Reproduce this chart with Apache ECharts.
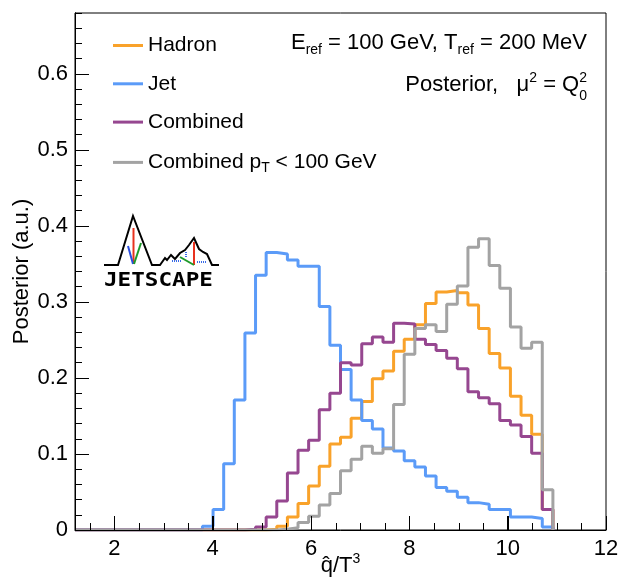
<!DOCTYPE html>
<html>
<head>
<meta charset="utf-8">
<script src="https://cdn.jsdelivr.net/npm/echarts@6/dist/echarts.min.js"></script>
<style>
html,body{margin:0;padding:0;background:#fff;}
#chart{width:619px;height:578px;}
</style>
</head>
<body>
<div id="chart"></div>
<script>
// ---- data ----
const binLow = 1.2;
const binWidth = 0.216;
const seriesNames = ['Hadron', 'Jet', 'Combined', 'Combined pT < 100 GeV'];
const hadron = [0,0,0,0,0,0,0,0,0,0,0,0,0,0,0,0,0,0,
  0.001,0.005,0.017,0.035,0.058,0.084,0.113,0.122,0.147,0.169,0.199,0.209,0.235,0.251,0.270,0.298,0.313,0.315,0.312,0.296,0.265,0.232,0.213,0.176,0.151,0.126,0.027];
const jet = [0,0,0,0,0,0,0,0,0,0,0,0,
  0.005,0.027,0.087,0.171,0.259,0.335,0.365,0.363,0.355,0.347,0.347,0.294,0.243,0.211,0.171,0.144,0.133,0.108,0.104,0.091,0.083,0.071,0.056,0.051,0.043,0.036,0.034,0.027,0.027,0.017,0.017,0.015,0.004];
const combined = [0,0,0,0,0,0,0,0,0,0,0,0,0,0,0,0,
  0.001,0.004,0.017,0.038,0.075,0.105,0.118,0.158,0.180,0.220,0.217,0.245,0.254,0.247,0.272,0.271,0.251,0.244,0.236,0.226,0.212,0.182,0.174,0.166,0.144,0.138,0.123,0.101,0.027];
const combinedLowPt = [0,0,0,0,0,0,0,0,0,0,0,0,0,0,0,0,0,0,0,
  0.001,0.003,0.010,0.018,0.033,0.048,0.078,0.093,0.110,0.101,0.107,0.165,0.231,0.265,0.270,0.261,0.297,0.321,0.372,0.383,0.348,0.318,0.267,0.239,0.247,0.053];
const xMajorTicks = [2,4,6,8,10,12];
const xMinorTicks = [1.5,2.5,3,3.5,4.5,5,5.5,6.5,7,7.5,8.5,9,9.5,10.5,11,11.5];
const xRange = [1.2, 12];
const yRange = [0, 0.68];

// ---- build ----
function histPoints(vals){
  const pts = [];
  for (let i = 0; i < vals.length; i++) pts.push([binLow + i*binWidth, vals[i]]);
  pts.push([binLow + vals.length*binWidth, 0]);
  return pts;
}
const colors = ['#f9a22a', '#5b9bf8', '#964790', '#a3a3a3'];
const allVals = [hadron, jet, combined, combinedLowPt];
const FONT = '"Liberation Sans", Arial, Helvetica, sans-serif';

const chart = echarts.init(document.getElementById('chart'), null, {renderer:'canvas'});
const series = allVals.map((v, k) => ({
  name: seriesNames[k],
  type: 'line',
  step: 'end',
  xAxisIndex: 0, yAxisIndex: 0,
  data: histPoints(v),
  symbol: 'none',
  showSymbol: false,
  lineStyle: {color: colors[k], width: 3},
  itemStyle: {color: colors[k]},
  emphasis: {disabled: true},
  z: 2 + k
}));

const option = {
  animation: false,
  backgroundColor: '#fff',
  textStyle: {fontFamily: FONT},
  grid: {left: 75, right: 13, top: 13, bottom: 48, show: true, borderColor: '#000', borderWidth: 1,
         backgroundColor: 'transparent', containLabel: false, outerBoundsMode: 'none'},
  legend: {
    left: 113, top: 35, orient: 'vertical', itemWidth: 30, itemHeight: 3, itemGap: 17.3, icon: 'rect',
    padding: 0,
    data: seriesNames,
    formatter: function(name){
      if (name === seriesNames[3]) return '{n|Combined p}{s|T}{n| < 100 GeV}';
      return '{n|' + name + '}';
    },
    textStyle: {
      fontFamily: FONT, color: '#000', fontSize: 21, lineHeight: 21,
      rich: {
        n: {fontFamily: FONT, fontSize: 21, color: '#000', lineHeight: 21},
        s: {fontFamily: FONT, fontSize: 14, color: '#000', lineHeight: 10, padding: [11,0,0,0]}
      }
    },
    selectedMode: false
  },
  xAxis: [{
    type: 'value', min: xRange[0], max: xRange[1], position: 'bottom',
    axisLine: {show: true, onZero: false, lineStyle: {color: '#000', width: 1}},
    axisTick: {show: true, inside: true, length: 14, customValues: xMajorTicks, lineStyle: {color: '#000', width: 1}},
    axisLabel: {show: true, customValues: xMajorTicks, fontSize: 22, color: '#000', fontFamily: FONT, margin: 8},
    splitLine: {show: false},
    name: '{a|q\u0302/T}{p|3}', nameLocation: 'middle', nameGap: 23, nameMoveOverlap: false,
    nameTextStyle: {
      fontSize: 22, color: '#000', fontFamily: FONT, verticalAlign: 'top',
      rich: {
        a: {fontSize: 22, fontFamily: FONT, color: '#000', lineHeight: 26},
        p: {fontSize: 14, fontFamily: FONT, color: '#000', lineHeight: 14, padding: [0,0,14,0]}
      }
    },
    z: 20
  }],
  yAxis: [{
    type: 'value', min: yRange[0], max: yRange[1], interval: 0.1, position: 'left',
    axisLine: {show: true, onZero: false, lineStyle: {color: '#000', width: 1}},
    axisTick: {show: true, inside: true, length: 14, lineStyle: {color: '#000', width: 1}},
    axisLabel: {fontSize: 22, color: '#000', fontFamily: FONT, margin: 7, showMaxLabel: false,
      formatter: v => (v === 0 ? '0' : v.toFixed(1))},
    splitLine: {show: false},
    name: 'Posterior (a.u.)', nameLocation: 'middle', nameGap: 42, nameRotate: 90, nameMoveOverlap: false,
    nameTextStyle: {fontSize: 22, color: '#000', fontFamily: FONT},
    z: 20
  }, {
    type: 'value', min: yRange[0], max: yRange[1], interval: 0.02, position: 'left',
    axisLine: {show: true, onZero: false, lineStyle: {color: '#000', width: 1}},
    axisTick: {show: true, inside: true, length: 7, lineStyle: {color: '#000', width: 1}},
    axisLabel: {show: false},
    splitLine: {show: false},
    z: 20
  }],
  series: series,
  graphic: [
    {
      id: 'tl1', type: 'text', right: 32, top: 29, z: 10,
      style: {
        text: '{n|E}{s|ref}{n| = 100 GeV, T}{s|ref}{n| = 200 MeV}',
        fill: '#000', font: '22px ' + FONT,
        rich: {
          n: {fontSize: 22, fontFamily: FONT, fill: '#000', lineHeight: 26},
          s: {fontSize: 14, fontFamily: FONT, fill: '#000', lineHeight: 14, padding: [14,0,0,0]}
        }
      }
    },
    {
      id: 'tl2', type: 'text', right: 32, top: 71, z: 10,
      style: {
        text: '{n|Posterior,   \u03bc}{p|2}{n| = Q}{p|2}',
        fill: '#000', font: '22px ' + FONT,
        rich: {
          n: {fontSize: 22, fontFamily: FONT, fill: '#000', lineHeight: 26},
          p: {fontSize: 14, fontFamily: FONT, fill: '#000', lineHeight: 14, padding: [0,0,14,0]}
        }
      }
    },
    {
      id: 'tl3', type: 'text', right: 32, top: 89, z: 10,
      style: {text: '0', fill: '#000', font: '14px ' + FONT}
    },
    // JETSCAPE logo (decoration)
    {
      id: 'logo', type: 'group', x: 0, y: 0, z: 10,
      children: [
        {type: 'polyline', shape: {points: [[104,265],[118,265],[133,216],[152,265],[160,265],[165,258],[167,260],[171,255],[175,259],[180,253],[185,250],[189,245],[194,238],[199,249],[203,252],[207,254],[212,265],[219,265]]},
          style: {stroke: '#000', lineWidth: 2, fill: null}},
        {type: 'line', shape: {x1: 133.5, y1: 228, x2: 133.5, y2: 264}, style: {stroke: '#e8321e', lineWidth: 2}},
        {type: 'line', shape: {x1: 128, y1: 246, x2: 133, y2: 264}, style: {stroke: '#2a4de0', lineWidth: 2}},
        {type: 'line', shape: {x1: 141, y1: 243, x2: 134, y2: 264}, style: {stroke: '#1e9a2a', lineWidth: 2}},
        {type: 'line', shape: {x1: 194, y1: 242, x2: 194, y2: 265}, style: {stroke: '#e8321e', lineWidth: 2}},
        {type: 'line', shape: {x1: 180, y1: 257, x2: 194, y2: 265}, style: {stroke: '#1e9a2a', lineWidth: 2}},
        {type: 'line', shape: {x1: 172, y1: 261, x2: 182, y2: 261}, style: {stroke: '#3a6be8', lineWidth: 2, lineDash: [1,1]}},
        {type: 'line', shape: {x1: 186, y1: 252, x2: 186, y2: 258}, style: {stroke: '#3a6be8', lineWidth: 2, lineDash: [1,1]}},
        {type: 'line', shape: {x1: 197, y1: 262, x2: 207, y2: 262}, style: {stroke: '#3a6be8', lineWidth: 2, lineDash: [1,1]}},
        {type: 'text', x: 104, y: 271, scaleX: 1.13,
          style: {text: 'JETSCAPE', fill: '#000', font: 'bold 20px "DejaVu Sans Mono", monospace'}}
      ]
    }
  ]
};
chart.setOption(option);

// x-axis tick marks, positioned through the chart's own x scale (thin filled rects)
const tickEls = [];
const y0 = Math.round(chart.convertToPixel({yAxisIndex: 0}, yRange[0]));
function addTicks(values, len, tag){
  values.forEach((v, i) => {
    const px = Math.round(chart.convertToPixel({xAxisIndex: 0}, v));
    tickEls.push({id: tag + i, type: 'rect', z: 100, silent: true,
      shape: {x: px, y: y0 - len, width: 1, height: len},
      style: {fill: '#000'}});
  });
}
addTicks(xMajorTicks, 14, 'xmaj');
addTicks(xMinorTicks, 7, 'xmin');
chart.setOption({graphic: tickEls});
</script>
</body>
</html>
